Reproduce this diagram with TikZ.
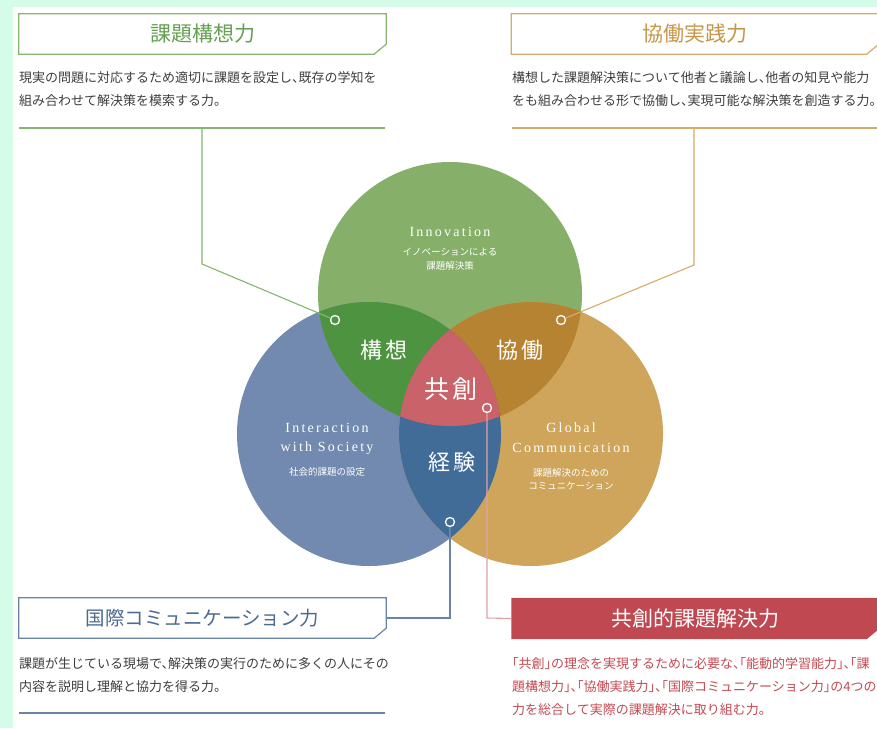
\documentclass[tikz,border=0pt]{standalone}
\usepackage{fontspec}
\setmainfont{Liberation Serif}
\newfontfamily\jp{Noto Sans CJK JP}
\newfontfamily\jpdesc[RawFeature=+halt]{Noto Sans CJK JP}
\newfontfamily\jpwide[LetterSpace=15]{Noto Sans CJK JP}
\newfontfamily\enwide[LetterSpace=16]{Liberation Serif}

\definecolor{mint}{RGB}{212,252,232}
\definecolor{innogreen}{RGB}{134,176,106}
\definecolor{kousougreen}{RGB}{78,148,64}
\definecolor{socblue}{RGB}{114,137,176}
\definecolor{keikenblue}{RGB}{66,108,152}
\definecolor{globgold}{RGB}{206,165,90}
\definecolor{kyoudougold}{RGB}{182,131,50}
\definecolor{kyousoured}{RGB}{201,99,105}
\definecolor{boxred}{RGB}{192,72,80}
\definecolor{titlegreen}{RGB}{102,160,82}
\definecolor{titlegold}{RGB}{200,150,72}
\definecolor{titleblue}{RGB}{76,106,146}
\definecolor{linegreen}{RGB}{132,182,112}
\definecolor{linegold}{RGB}{214,172,104}
\definecolor{lineblue}{RGB}{104,132,166}
\definecolor{linepink}{RGB}{226,160,166}
\definecolor{textgray}{RGB}{62,62,62}
\definecolor{textred}{RGB}{196,74,82}

\tikzset{
  titlebox/.style={minimum width=367pt, minimum height=40pt, inner sep=0pt, font=\jp\fontsize{21}{21}\selectfont},
  desc/.style={anchor=base west, inner sep=0pt, font=\jpdesc\fontsize{13}{13}\selectfont, text=textgray},
  circen/.style={text=white, inner sep=0pt, font=\enwide\fontsize{14}{14}\selectfont},
  circjp/.style={text=white, inner sep=0pt, font=\jp\fontsize{9.5}{9.5}\selectfont},
  regionlabel/.style={text=white, inner sep=0pt, font=\jpwide\fontsize{22}{22}\selectfont},
  dot/.style={circle, draw=white, line width=1.3pt, minimum size=9pt, inner sep=0pt},
}

\begin{document}
\begin{tikzpicture}[x=1pt,y=-1pt]
\useasboundingbox (0,0) rectangle (877,728);
\fill[mint] (0,0) rectangle (877,728);
\fill[white] (13,7) rectangle (877,728);

% three circles
\fill[innogreen] (450,294) circle[radius=132pt];
\fill[socblue] (369,434) circle[radius=132pt];
\fill[globgold] (531,434) circle[radius=132pt];
\begin{scope}
\clip (450,294) circle[radius=132pt];
\fill[kousougreen] (369,434) circle[radius=132pt];
\fill[kyoudougold] (531,434) circle[radius=132pt];
\end{scope}
\begin{scope}
\clip (369,434) circle[radius=132pt];
\fill[keikenblue] (531,434) circle[radius=132pt];
\end{scope}
\begin{scope}
\clip (450,294) circle[radius=132pt];
\clip (369,434) circle[radius=132pt];
\fill[kyousoured] (531,434) circle[radius=132pt];
\end{scope}

% texts in the circles
\node[circen] (innoen) at (450,232) {Innovation};
\node[circjp] (innojp1) at (450,252) {イノベーションによる};
\node[circjp] (innojp2) at (450,266) {課題解決策};
\node[circen] (socen1) at (327,428) {Interaction};
\node[circen] (socen2) at (327,448) {with Society};
\node[circjp] (socjp) at (327,472) {社会的課題の設定};
\node[circen] (globen1) at (571,428) {Global};
\node[circen] (globen2) at (571,448) {Communication};
\node[circjp] (globjp1) at (571,473) {課題解決のための};
\node[circjp] (globjp2) at (571,486) {コミュニケーション};
\node[regionlabel] (kousoulbl) at (384,350) {構想};
\node[regionlabel] (kyoudoulbl) at (520,350) {協働};
\node[regionlabel, font=\jpwide\fontsize{25}{25}\selectfont] (kyousoulbl) at (451,389) {共創};
\node[regionlabel] (keikenlbl) at (452,462) {経験};

% dots
\node[dot] (kousoudot) at (335,320) {};
\node[dot] (kyoudoudot) at (561,320) {};
\node[dot] (kyousoudot) at (487,408) {};
\node[dot] (keikendot) at (450,522) {};

% top left: kadai kousou ryoku
\node[titlebox, text=titlegreen] (kousou) at (202.5,34) {課題構想力};
\draw[linegreen, line width=1.2pt] (kousou.north west) -- (kousou.north east) -- ([yshift=10pt]kousou.south east) -- ([xshift=-12pt]kousou.south east) -- (kousou.south west) -- cycle;
\node[desc] (kousoutxt1) at (19,82) {現実の問題に対応するため適切に課題を設定し、既存の学知を};
\node[desc] (kousoutxt2) at (19,105) {組み合わせて解決策を模索する力。};
\draw[linegreen, line width=2pt] (19,128) -- (385,128);
\coordinate (kousoubar) at (202,128);
\coordinate (kousoubend) at (202,264);
\draw[linegreen, line width=1.1pt] (kousoubar) -- (kousoubend) -- (kousoudot);

% top right: kyoudou jissen ryoku
\node[titlebox, text=titlegold] (kyoudou) at (695,34) {協働実践力};
\draw[linegold, line width=1.2pt] (kyoudou.north west) -- (kyoudou.north east) -- ([yshift=10pt]kyoudou.south east) -- ([xshift=-12pt]kyoudou.south east) -- (kyoudou.south west) -- cycle;
\node[desc] (kyoudoutxt1) at (512,82) {構想した課題解決策について他者と議論し、他者の知見や能力};
\node[desc] (kyoudoutxt2) at (512,105) {をも組み合わせる形で協働し、実現可能な解決策を創造する力。};
\draw[linegold, line width=2pt] (512,128) -- (877,128);
\coordinate (kyoudoubar) at (694,128);
\coordinate (kyoudoubend) at (694,265);
\draw[linegold, line width=1.1pt] (kyoudoubar) -- (kyoudoubend) -- (kyoudoudot);

% bottom left: kokusai communication ryoku
\node[titlebox, text=titleblue, font=\jp\fontsize{19.5}{19.5}\selectfont] (kokusai) at (202.5,618) {国際コミュニケーション力};
\draw[lineblue, line width=1.2pt] (kokusai.north west) -- (kokusai.north east) -- ([yshift=10pt]kokusai.south east) -- ([xshift=-12pt]kokusai.south east) -- (kokusai.south west) -- cycle;
\node[desc] (kokusaitxt1) at (19,668) {課題が生じている現場で、解決策の実行のために多くの人にその};
\node[desc] (kokusaitxt2) at (19,691) {内容を説明し理解と協力を得る力。};
\draw[lineblue, line width=2pt] (19,713) -- (385,713);
\coordinate (keikenbend) at (450,618);
\draw[lineblue, line width=1.1pt] (keikendot) -- (keikenbend) -- (kokusai.east);

% bottom right: kyousou teki kadai kaiketsu ryoku
\node[titlebox, text=white, minimum height=41pt] (kyousou) at (695,618.5) {共創的課題解決力};
\fill[boxred] (kyousou.north west) -- (kyousou.north east) -- ([yshift=10pt]kyousou.south east) -- ([xshift=-12pt]kyousou.south east) -- (kyousou.south west) -- cycle;
\node[titlebox, text=white, minimum height=41pt] at (kyousou) {共創的課題解決力};
\node[desc, text=textred] (kyousoutxt1) at (512,668) {「共創」の理念を実現するために必要な、「能動的学習能力」、「課};
\node[desc, text=textred] (kyousoutxt2) at (512,691) {題構想力」、「協働実践力」、「国際コミュニケーション力」の4つの};
\node[desc, text=textred] (kyousoutxt3) at (512,714) {力を総合して実際の課題解決に取り組む力。};
\coordinate (kyousoubend) at (487,618);
\draw[linepink, line width=1.1pt] (kyousoudot) -- (kyousoubend) -- (kyousou.west);
\end{tikzpicture}
\end{document}
